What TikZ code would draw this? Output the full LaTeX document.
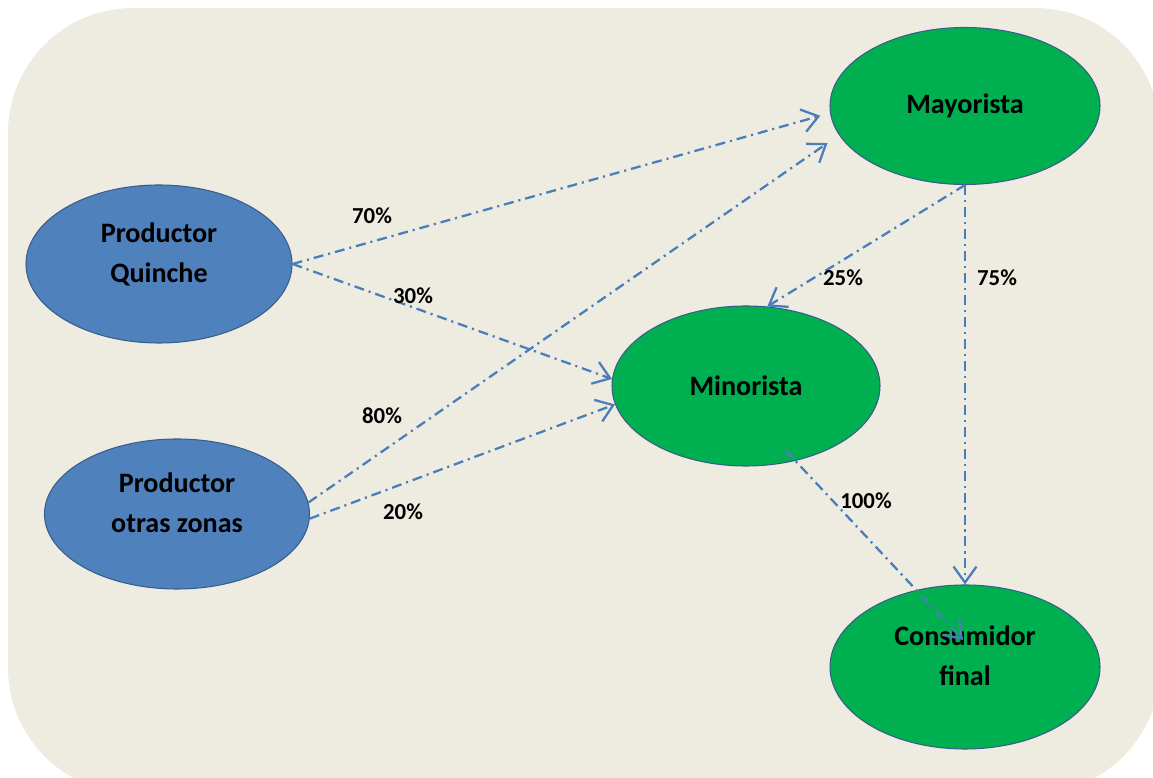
\documentclass[tikz,border=0pt]{standalone}
\usepackage{fontspec}
\setmainfont{Carlito}
\usetikzlibrary{positioning}
\usetikzlibrary{shapes.geometric}
\usetikzlibrary{arrows.meta}

\definecolor{fondo}{HTML}{EEECE1}
\definecolor{azul}{HTML}{4F81BD}
\definecolor{verde}{HTML}{00B050}
\definecolor{borde}{HTML}{385D8A}
\definecolor{flecha}{HTML}{4A7EBB}

\begin{document}
\begin{tikzpicture}[>={Straight Barb[length=0.32cm,width=0.46cm]},
    agente/.style={ellipse, draw=borde, line width=0.6pt, inner sep=0pt, align=center,
        font=\fontsize{16}{22.7}\selectfont\bfseries},
    dos lineas/.style={text depth=0.45cm},
    productor/.style={agente, fill=azul, dos lineas},
    comercio/.style={agente, fill=verde},
    flujo/.style={->, draw=flecha, line width=1.3pt,
        dash pattern=on 5.7pt off 2.8pt on 1.2pt off 2.8pt},
    pct/.style={font=\fontsize{13}{15}\selectfont\bfseries}]
        \useasboundingbox (0,0) rectangle (23.06,15.56);
        \begin{scope}
            \clip (0,0) rectangle (23.06,15.56);
            \fill[fondo, rounded corners=2.5cm] (0.16,-0.3) rectangle (23.2,15.4);
        \end{scope}

        % Productores
        \node[productor, minimum width=5.32cm, minimum height=3.16cm] at (3.18,10.28) (quinche) {Productor\\Quinche};
        \node[productor, minimum width=5.3cm, minimum height=3.0cm] at (3.54,5.28) (otras) {Productor\\otras zonas};

        % Intermediarios y consumidor
        \node[comercio, minimum width=5.4cm, minimum height=3.14cm] at (19.30,13.44) (mayorista) {Mayorista};
        \node[comercio, minimum width=5.36cm, minimum height=3.2cm] at (14.92,7.84) (minorista) {Minorista};
        \node[comercio, dos lineas, minimum width=5.4cm, minimum height=3.28cm] at (19.30,2.22) (consumidor) {Consumidor\\final};
        \coordinate (cons_in) at (19.26,2.76);

        % Flujos
        \draw[flujo, shorten >=0.2cm] (quinche.east) -- (mayorista.183);
        \draw[flujo] (quinche.east) -- (minorista.177);
        \draw[flujo, shorten >=0.28cm] (otras.5) -- (mayorista.193);
        \draw[flujo] (otras.-2) -- (minorista.188);
        \draw[flujo] (mayorista.south) -- (minorista.75);
        \draw[flujo] (mayorista.south) -- (consumidor.north);
        \draw[flujo] ([shift={(-0.15,0.22)}]minorista.-58) -- (cons_in);

        % Porcentajes
        \node[pct] at (7.44,11.24) (p70) {70\%};
        \node[pct] at (8.26,9.64) (p30) {30\%};
        \node[pct] at (7.64,7.24) (p80) {80\%};
        \node[pct] at (8.06,5.32) (p20) {20\%};
        \node[pct] at (16.86,10.0) (p25) {25\%};
        \node[pct] at (19.94,10.0) (p75) {75\%};
        \node[pct] at (17.32,5.54) (p100) {100\%};
\end{tikzpicture}
\end{document}
